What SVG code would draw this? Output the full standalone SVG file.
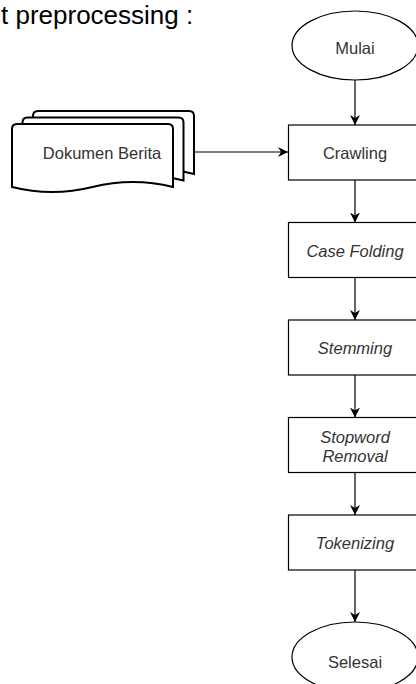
<svg xmlns="http://www.w3.org/2000/svg" width="416" height="684" viewBox="0 0 416 684">
<defs>
<style>
.shape{fill:#fff;stroke:#000;stroke-width:1.2}
.doc{fill:#fff;stroke:#000;stroke-width:2}
.lbl{font-family:"Liberation Sans",Arial,sans-serif;font-size:16.5px;fill:#333;text-anchor:middle;dominant-baseline:central}
.it{font-style:italic}
.edge{fill:none;stroke:#000;stroke-width:1.2}
</style>
<marker id="arr" markerUnits="userSpaceOnUse" markerWidth="10" markerHeight="10" refX="10" refY="5" orient="auto">
<path d="M0,0 L10,5 L0,10 L3,5 Z" fill="#000"/>
</marker>
<path id="docshape" d="M12,187 L12,129 Q12,124 17,124 L168,124 Q173,124 173,129 L173,187 Q133,177 92.5,187 Q52,197 12,187 Z"/>
</defs>
<rect width="416" height="684" fill="#fff"/>
<text x="1" y="24" font-family="Liberation Sans,Arial,sans-serif" font-size="26" fill="#000">t preprocessing :</text>

<g id="connectors">
<line class="edge" x1="355" y1="80" x2="355" y2="125" marker-end="url(#arr)"/>
<line class="edge" x1="194" y1="152" x2="288" y2="152" marker-end="url(#arr)"/>
<line class="edge" x1="355" y1="180" x2="355" y2="222.5" marker-end="url(#arr)"/>
<line class="edge" x1="355" y1="277.5" x2="355" y2="320" marker-end="url(#arr)"/>
<line class="edge" x1="355" y1="375" x2="355" y2="417.5" marker-end="url(#arr)"/>
<line class="edge" x1="355" y1="472.5" x2="355" y2="515" marker-end="url(#arr)"/>
<line class="edge" x1="355" y1="570" x2="355" y2="622" marker-end="url(#arr)"/>
</g>

<g id="mulai">
<ellipse class="shape" cx="355" cy="45.5" rx="63" ry="34.5"/>
<text class="lbl" x="355" y="48">Mulai</text>
</g>

<g id="dokumen-berita">
<use href="#docshape" class="doc" transform="translate(21,-13)"/>
<use href="#docshape" class="doc" transform="translate(10.5,-6.5)"/>
<use href="#docshape" class="doc"/>
<text class="lbl" x="102" y="153">Dokumen Berita</text>
</g>

<g id="crawling">
<rect class="shape" x="288.5" y="125" width="134" height="55"/>
<text class="lbl" x="355" y="153">Crawling</text>
</g>

<g id="case-folding">
<rect class="shape" x="288.5" y="222.5" width="134" height="55"/>
<text class="lbl it" x="355" y="250.5">Case Folding</text>
</g>

<g id="stemming">
<rect class="shape" x="288.5" y="320" width="134" height="55"/>
<text class="lbl it" x="355" y="348">Stemming</text>
</g>

<g id="stopword-removal">
<rect class="shape" x="288.5" y="417.5" width="134" height="55"/>
<text class="lbl it" x="355" y="437">Stopword</text>
<text class="lbl it" x="355" y="456">Removal</text>
</g>

<g id="tokenizing">
<rect class="shape" x="288.5" y="515" width="134" height="55"/>
<text class="lbl it" x="355" y="543">Tokenizing</text>
</g>

<g id="selesai">
<ellipse class="shape" cx="355" cy="657" rx="63" ry="35"/>
<text class="lbl" x="355" y="662">Selesai</text>
</g>
</svg>
